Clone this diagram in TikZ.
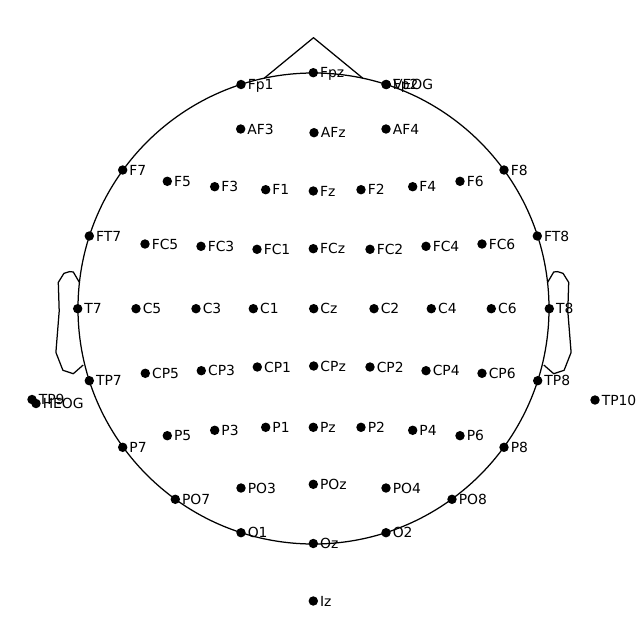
\documentclass[tikz,border=0pt]{standalone}
\usepackage{fontspec}
\setmainfont{DejaVu Sans}
\begin{document}
\begin{tikzpicture}[x=0.72pt,y=-0.72pt,
  outline/.style={draw=black,line width=0.9pt,line join=round},
  dot/.style={circle,fill=black,inner sep=0pt,minimum size=6.8pt},
  lab/.style={anchor=base west,inner sep=0pt,font=\fontsize{10}{12}\selectfont}]
\useasboundingbox (0,0) rectangle (640,640);
% head
\draw[outline] (313.5,308.5) circle [radius=235.5];
% nose
\draw[outline] (264.2,78.2) -- (313.5,37.7) -- (362.8,78.2);
% ears
\draw[outline] (547.6,282.4) -- (553.7,272.0) -- (557.5,271.6) -- (563.1,273.4) -- (568.7,282.4) -- (567.8,311.1) -- (571.1,352.4) -- (564.1,370.3) -- (553.7,373.7) -- (543.8,365.0);
\draw[outline] (79.4,282.4) -- (73.3,272.0) -- (69.5,271.6) -- (63.9,273.4) -- (58.3,282.4) -- (59.2,311.1) -- (55.9,352.4) -- (62.9,370.3) -- (73.3,373.7) -- (83.2,365.0);
% electrodes
\foreach \n/\x/\y in {
  Fp1/241/84.5, Fpz/313.3/72.7, Fp2/386/84.5,
  AF3/240.7/129, AFz/314/132.7, AF4/386/129,
  F7/122.7/170, F5/167.3/181.3, F3/214.7/186.7, F1/265.7/189.7, Fz/313.3/191, F2/361/189.7, F4/412.7/186.7, F6/460/181.3, F8/504/170,
  FT7/89.3/236, FC5/145/244, FC3/201/246.3, FC1/257/249.3, FCz/313.3/248.7, FC2/370/249.3, FC4/426/246.3, FC6/482/244, FT8/537.3/236,
  T7/77.7/308.7, C5/136/308.7, C3/196/308.7, C1/253.3/308.7, Cz/313.7/308.7, C2/374/308.7, C4/431.3/308.7, C6/491.3/308.7, T8/549.3/308.7,
  TP7/89.3/380.7, CP5/145.3/373.3, CP3/201.3/370.7, CP1/257.3/367, CPz/313.7/366, CP2/370/367, CP4/426/370.7, CP6/482/373.3, TP8/537.7/380.7,
  TP9/32/399.5, HEOG/36/403.5, TP10/595/400,
  P7/122.7/447.3, P5/167.3/435.7, P3/214.7/430.3, P1/265.7/427.3, Pz/313.3/427.3, P2/361/427.3, P4/412.7/430.3, P6/460/435.7, P8/504/447.3,
  PO7/175.3/499.3, PO3/241/488, POz/313.3/484.3, PO4/386/488, PO8/452/499.3,
  O1/241/532.7, Oz/313.3/543.5, O2/386/532.7,
  Iz/313.3/601,
  VEOG/386.3/84.5}
{
  \node[dot] (e-\n) at (\x,\y) {};
  \node[lab] (l-\n) at (\x+6.5,\y+5) {\n};
}
\end{tikzpicture}
\end{document}
